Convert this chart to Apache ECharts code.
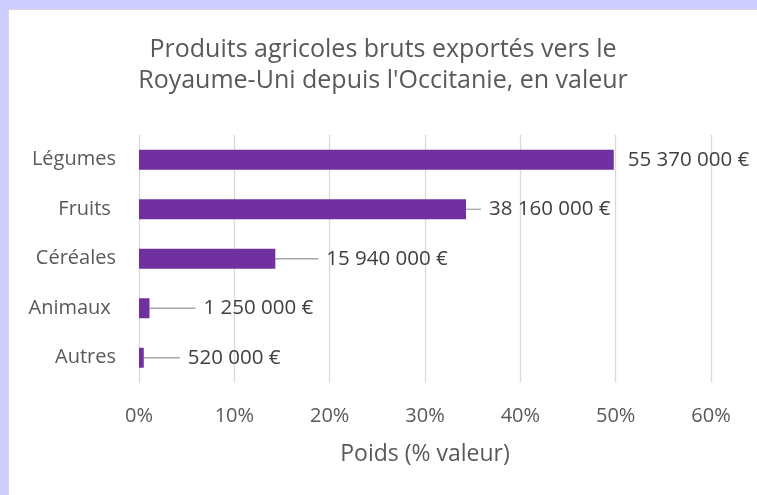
<!DOCTYPE html>
<html>
<head>
<meta charset="utf-8">
<script src="https://cdn.jsdelivr.net/npm/echarts@6/dist/echarts.min.js"></script>
<style>
  html, body { margin: 0; padding: 0; background: #ccccff; }
  #chart {
    position: absolute; left: 8px; top: 9px;
    width: 748px; height: 485px;
    background: #fff;
    border-top: 1px solid #d9d9d9; border-left: 1px solid #d9d9d9;
  }
</style>
</head>
<body>
<div id="chart"></div>
<script>
// categories, top to bottom
const categories = ['Légumes', 'Fruits ', 'Céréales', 'Animaux ', 'Autres']
// share of export value (%)
const shares = [49.8, 34.3, 14.3, 1.1, 0.5]
// value labels
const valueLabels = ['55 370 000 €', '38 160 000 €', '15 940 000 €', '1 250 000 €', '520 000 €']
const ticks = [0, 10, 20, 30, 40, 50, 60]

// how far each label is pushed right of its bar (leader line length)
const labelShift = [6, 15, 43, 46, 36]

const font = 'Open Sans'
const grey = '#595959'

const chart = echarts.init(document.getElementById('chart'))

chart.setOption({
  animation: false,
  title: {
    text: 'Produits agricoles bruts exportés vers le\nRoyaume-Uni depuis l\'Occitanie, en valeur',
    left: 'center',
    top: 24,
    padding: 0,
    textStyle: {
      fontFamily: font,
      fontSize: 25,
      fontWeight: 'normal',
      color: grey,
      lineHeight: 31
    }
  },
  grid: { left: 130, right: 46, top: 125, bottom: 112.5 },
  xAxis: {
    type: 'value',
    min: ticks[0],
    max: ticks[ticks.length - 1],
    interval: 10,
    name: 'Poids (% valeur)',
    nameLocation: 'middle',
    nameGap: 60,
    nameTextStyle: { fontFamily: font, fontSize: 23, color: grey },
    axisLine: { show: false },
    axisTick: { show: false },
    axisLabel: {
      margin: 24,
      fontFamily: font,
      fontSize: 20,
      color: grey,
      formatter: v => v + '%'
    },
    splitLine: { lineStyle: { color: '#d9d9d9', width: 1.3 } }
  },
  yAxis: {
    type: 'category',
    data: categories,
    inverse: true,
    axisLine: { show: false },
    axisTick: { show: false },
    axisLabel: { margin: 23, fontFamily: font, fontSize: 20, color: grey }
  },
  series: [{
    type: 'bar',
    barWidth: 20,
    data: shares.map((v, i) => ({
      value: v,
      labelLine: { show: i > 0 }
    })),
    itemStyle: { color: '#7030a0' },
    label: {
      show: true,
      position: 'right',
      distance: 0,
      fontFamily: font,
      fontSize: 20.5,
      color: '#404040',
      formatter: p => '{gap| }' + valueLabels[p.dataIndex],
      rich: {
        gap: { width: 8 }
      }
    },
    labelLine: {
      show: true,
      lineStyle: { color: '#a6a6a6', width: 1.3 }
    },
    labelLayout: p => ({ dx: labelShift[p.dataIndex] })
  }]
})
</script>
</body>
</html>
